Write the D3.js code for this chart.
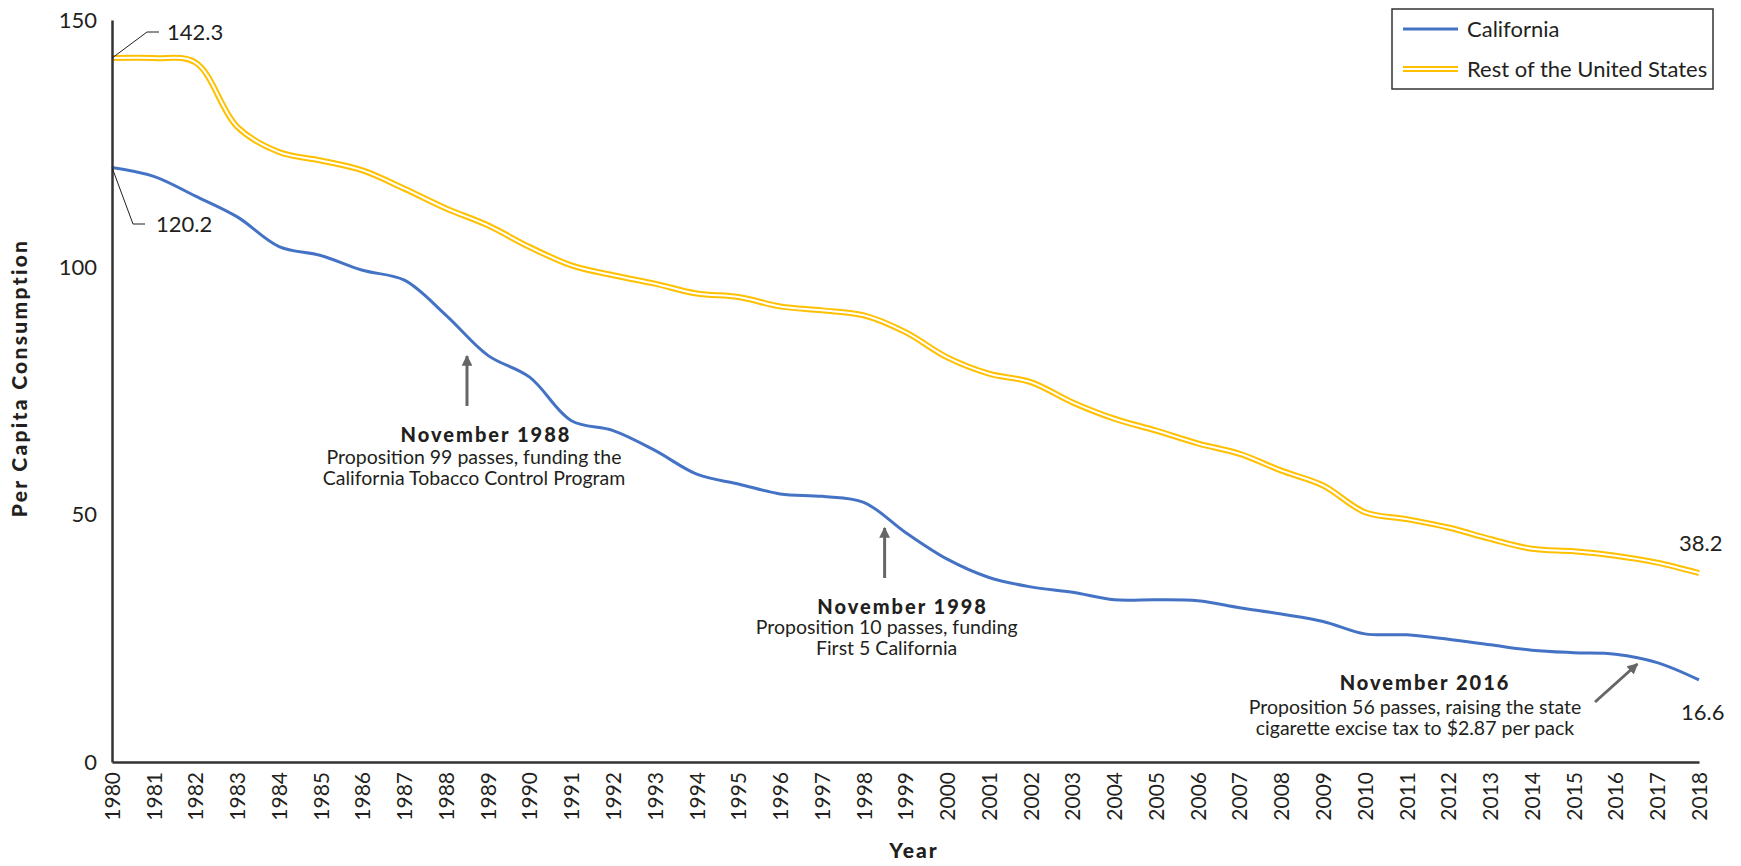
<!DOCTYPE html>
<html>
<head>
<meta charset="utf-8">
<script src="https://cdn.jsdelivr.net/npm/d3@7"></script>
<style>
  html, body { margin: 0; padding: 0; background: #fff; }
  svg { display: block; font-family: Lato, "Noto Sans", sans-serif; }
</style>
</head>
<body>
<svg id="chart" width="1741" height="866"></svg>
<script>
// ---------- data ----------
const years = [1980,1981,1982,1983,1984,1985,1986,1987,1988,1989,1990,1991,1992,1993,1994,1995,1996,1997,1998,1999,
               2000,2001,2002,2003,2004,2005,2006,2007,2008,2009,2010,2011,2012,2013,2014,2015,2016,2017,2018];
const california = [120.2,118.4,114.4,110.2,104.2,102.4,99.4,97.4,90.3,82.2,77.8,69.0,67.0,63.0,58.2,56.2,54.2,53.7,52.5,46.4,
                    41.0,37.3,35.4,34.3,32.8,32.8,32.6,31.2,29.9,28.4,25.9,25.7,24.8,23.7,22.6,22.1,21.8,20.1,16.6];
const restOfUS = [142.3,142.3,141.4,128.4,123.3,121.6,119.6,115.9,111.9,108.5,104.1,100.4,98.4,96.7,94.7,94.0,92.1,91.3,90.3,86.9,
                  81.8,78.5,76.8,72.7,69.4,67.0,64.4,62.3,58.9,55.9,50.5,49.1,47.4,45.1,43.1,42.6,41.7,40.3,38.2];
const yTicks = [0, 50, 100, 150];
const seriesNames = ["California", "Rest of the United States"];
const annoYears = [1988.5, 1998.5, 2016.5];
const annoTitles = ["November 1988", "November 1998", "November 2016"];
const annoLines = [
  ["Proposition 99 passes, funding the", "California Tobacco Control Program"],
  ["Proposition 10 passes, funding", "First 5 California"],
  ["Proposition 56 passes, raising the state", "cigarette excise tax to $2.87 per pack"]
];

// ---------- setup ----------
const svg = d3.select("#chart");
const pLeft = 112, pRight = 1699, pTop = 20, pBottom = 762;
const x = d3.scaleLinear().domain([1980, 2018]).range([pLeft, pRight]);
const y = d3.scaleLinear().domain([0, 150]).range([pBottom, pTop]);
const BLUE = "#4472C4", GOLD = "#FFC000", AXIS = "#333333", TEXT = "#231f20", ARROW = "#666666";

const defs = svg.append("defs");
defs.append("marker").attr("id", "ah").attr("viewBox", "0 0 10 10")
  .attr("refX", 9).attr("refY", 5).attr("markerWidth", 3.6).attr("markerHeight", 3.6)
  .attr("markerUnits", "strokeWidth").attr("orient", "auto")
  .append("path").attr("d", "M0,0 L10,5 L0,10 Z").attr("fill", ARROW);

// ---------- lines ----------
const line = d3.line().x((d, i) => x(years[i])).y(d => y(d)).curve(d3.curveCatmullRom.alpha(0.5));
svg.append("path").attr("d", line(restOfUS)).attr("fill", "none").attr("stroke", GOLD).attr("stroke-width", 6);
svg.append("path").attr("d", line(restOfUS)).attr("fill", "none").attr("stroke", "#fff").attr("stroke-width", 2);
svg.append("path").attr("d", line(california)).attr("fill", "none").attr("stroke", BLUE).attr("stroke-width", 3);

// ---------- axes ----------
const yAxis = svg.append("g").attr("transform", `translate(${pLeft},0)`)
  .call(d3.axisLeft(y).tickValues(yTicks).tickSize(0).tickSizeOuter(0).tickPadding(15));
yAxis.select(".domain").attr("stroke", AXIS).attr("stroke-width", 2.5);
yAxis.selectAll("text").attr("font-size", 22).attr("fill", TEXT).attr("font-family", "Lato");

const xAxis = svg.append("g").attr("transform", `translate(0,${pBottom})`)
  .call(d3.axisBottom(x).tickValues(years).tickFormat(d3.format("d")).tickSize(0).tickSizeOuter(0));
xAxis.select(".domain").attr("stroke", AXIS).attr("stroke-width", 2.5);
xAxis.selectAll("text").attr("font-size", 21).attr("fill", TEXT).attr("font-family", "Lato")
  .attr("transform", "rotate(-90)").attr("text-anchor", "end")
  .attr("x", -10).attr("y", 0).attr("dy", "0.35em");

// axis titles
svg.append("text").text("Year").attr("x", 914).attr("y", 851).attr("dy", "0.35em")
  .attr("text-anchor", "middle").attr("font-size", 21).attr("font-weight", 900)
  .attr("letter-spacing", 2).attr("fill", TEXT);
svg.append("text").text("Per Capita Consumption")
  .attr("transform", "translate(20,378) rotate(-90)").attr("dy", "0.35em")
  .attr("text-anchor", "middle").attr("font-size", 21).attr("font-weight", 900)
  .attr("letter-spacing", 2.3).attr("fill", TEXT);

// ---------- value labels ----------
function valueLabel(txt, pts, tx, ty) {
  svg.append("polyline").attr("points", pts.map(p => p.join(",")).join(" "))
    .attr("fill", "none").attr("stroke", TEXT).attr("stroke-width", 1);
  svg.append("text").text(txt).attr("x", tx).attr("y", ty).attr("dy", "0.35em")
    .attr("font-size", 22).attr("fill", TEXT);
}
const r0 = restOfUS[0], c0 = california[0];
valueLabel(d3.format(".1f")(r0), [[x(1980), y(r0)], [147, 32], [159, 32]], 167, 32);
valueLabel(d3.format(".1f")(c0), [[x(1980), y(c0)], [133, 224], [145, 224]], 156, 224);
svg.append("text").text(d3.format(".1f")(restOfUS[restOfUS.length - 1]))
  .attr("x", 1679).attr("y", 543).attr("dy", "0.35em").attr("font-size", 22).attr("fill", TEXT);
svg.append("text").text(d3.format(".1f")(california[california.length - 1]))
  .attr("x", 1681).attr("y", 712).attr("dy", "0.35em").attr("font-size", 22).attr("fill", TEXT);

// ---------- annotations ----------
function arrow(x1, y1, x2, y2) {
  svg.append("line").attr("x1", x1).attr("y1", y1).attr("x2", x2).attr("y2", y2)
    .attr("stroke", ARROW).attr("stroke-width", 3).attr("marker-end", "url(#ah)");
}
function annoText(i, tcx, tcy, lcx, l1y, l2y) {
  svg.append("text").text(annoTitles[i]).attr("x", tcx).attr("y", tcy).attr("dy", "0.35em")
    .attr("text-anchor", "middle").attr("font-size", 20).attr("font-weight", 900)
    .attr("letter-spacing", 2).attr("fill", TEXT);
  svg.append("text").text(annoLines[i][0]).attr("x", lcx).attr("y", l1y).attr("dy", "0.35em")
    .attr("text-anchor", "middle").attr("font-size", 19.5).attr("fill", TEXT);
  svg.append("text").text(annoLines[i][1]).attr("x", lcx).attr("y", l2y).attr("dy", "0.35em")
    .attr("text-anchor", "middle").attr("font-size", 19.5).attr("fill", TEXT);
}
// 1988
const a0 = x(annoYears[0]);
arrow(a0, 406, a0, 356);
annoText(0, a0 + 19, 435, a0 + 7, 457, 478);
// 1998
const a1 = x(annoYears[1]);
arrow(a1, 578, a1, 528);
annoText(1, a1 + 18, 607, a1 + 2, 627, 648);
// 2016
const a2 = x(annoYears[2]);
arrow(1595, 702, a2 + 1, 664);
annoText(2, 1425, 683, 1415, 707, 728);

// ---------- legend ----------
const lg = svg.append("g");
lg.append("rect").attr("x", 1392).attr("y", 9).attr("width", 321).attr("height", 80)
  .attr("fill", "#fff").attr("stroke", AXIS).attr("stroke-width", 1.5);
lg.append("line").attr("x1", 1403).attr("x2", 1458).attr("y1", 29).attr("y2", 29)
  .attr("stroke", BLUE).attr("stroke-width", 3);
lg.append("line").attr("x1", 1403).attr("x2", 1458).attr("y1", 69).attr("y2", 69)
  .attr("stroke", GOLD).attr("stroke-width", 6);
lg.append("line").attr("x1", 1403).attr("x2", 1458).attr("y1", 69).attr("y2", 69)
  .attr("stroke", "#fff").attr("stroke-width", 2);
lg.selectAll("text.lg").data(seriesNames).join("text").attr("class", "lg")
  .text(d => d).attr("x", 1467).attr("y", (d, i) => 29 + i * 40).attr("dy", "0.35em")
  .attr("font-size", 22).attr("fill", TEXT);
</script>
</body>
</html>
